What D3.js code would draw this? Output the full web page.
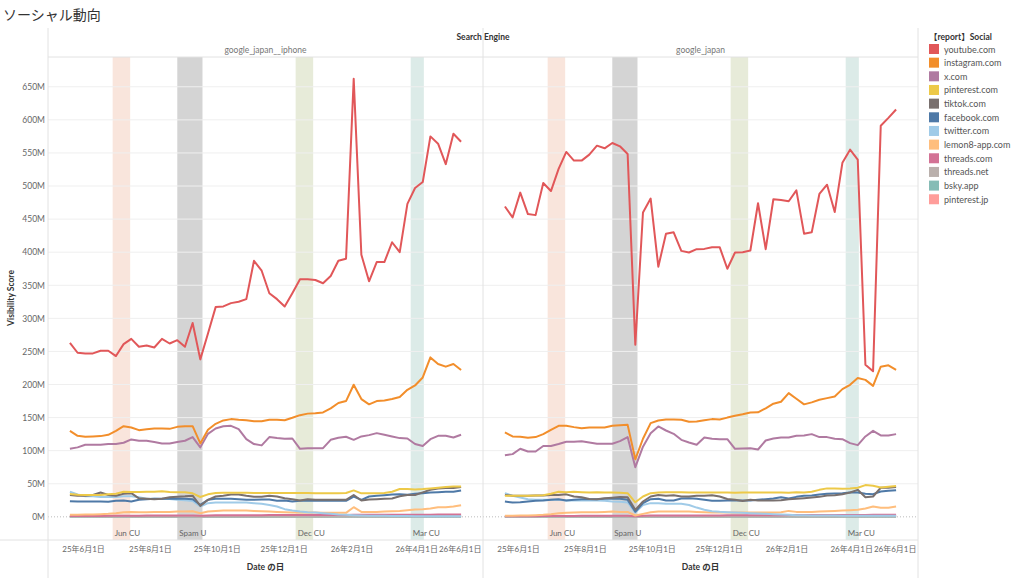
<!DOCTYPE html>
<html>
<head>
<meta charset="utf-8">
<script src="https://cdn.jsdelivr.net/npm/d3@7"></script>
<style>
  body { margin: 0; background: #fff; font-family: Lato, "Noto Sans CJK JP", sans-serif; }
  text { font-family: Lato, "Noto Sans CJK JP", sans-serif; }
</style>
</head>
<body>
<svg id="chart" width="1024" height="578"></svg>
<script>
// categories
const socialNames = ["youtube.com", "instagram.com", "x.com", "pinterest.com", "tiktok.com", "facebook.com",
  "twitter.com", "lemon8-app.com", "threads.com", "threads.net", "bsky.app", "pinterest.jp"];
const socialColors = ["#e15759", "#f28e2b", "#b07aa1", "#edc948", "#79706e", "#4e79a7",
  "#a0cbe8", "#ffbe7d", "#d37295", "#bab0ac", "#86bcb6", "#ff9d9a"];
const panelNames = ["google_japan__iphone", "google_japan"];

// weekly dates (52 weeks)
const startDate = new Date(2025, 4, 20);
const dates = d3.range(52).map(i => d3.timeDay.offset(startDate, 7 * i));

// tick labels
const yTicks = [0, 50, 100, 150, 200, 250, 300, 350, 400, 450, 500, 550, 600, 650];
const xTickDates = [new Date(2025, 5, 1), new Date(2025, 7, 1), new Date(2025, 9, 1), new Date(2025, 11, 1),
  new Date(2026, 1, 1), new Date(2026, 3, 1), new Date(2026, 5, 1)];
const xTickLabels = ["25年6月1日", "25年8月1日", "25年10月1日", "25年12月1日", "26年2月1日", "26年4月1日", "26年6月1日"];

// update bands
const bandNames = ["Jun CU", "Spam U", "Dec CU", "Mar CU"];
const bandStarts = [new Date(2025, 5, 28), new Date(2025, 7, 26), new Date(2025, 11, 12), new Date(2026, 2, 27)];
const bandEnds = [new Date(2025, 6, 14), new Date(2025, 8, 18), new Date(2025, 11, 28), new Date(2026, 3, 8)];
const bandColors = ["#f9e5dc", "#d4d4d4", "#e7ebd9", "#dcebe8"];

// google_japan__iphone (millions)
const lYoutube = [263,248,247,247,251,251,243,261,269,257,259,256,269,262,267,257,293,238,277,317,318,323,325,329,387,372,338,329,318,338,359,359,358,353,364,387,390,662,396,356,385,385,415,400,473,497,506,575,564,533,579,567];
const lInstagram = [130,122.5,121,121.5,122,124,130,137,135,131,132.5,133.5,133.5,133,136,137,137,111,131.5,140.6,145.7,147.7,146.7,146,144.6,144.6,146.7,146.7,146,149.7,153.7,156,156.7,157.8,164,172,175,199.6,178,170,175,176,178,181,192,198.6,210.7,241,231,227,231,222];
const lX = [103,105,109,109,109,110,110,112,117,115,115,113,111,111,113,115,120.5,105,125.5,133.6,137,137.6,132.6,117.4,110,108,120.5,119,118,118.4,102.8,103.8,103.8,103.8,116.4,119.4,121,116.4,121.5,123.5,126.5,124,121.5,119,118.4,110,107,117.4,122.5,122.5,120,124];
const lPinterest = [34.5,33.5,33,33,33,34,35,38,37.5,37.5,38,38,38.5,37.5,37,37,35.5,30,34,36,36.5,36.5,36.5,36.5,36,36,36,36,36,36,36,36,35.5,35.5,35.5,35.5,36,40,35.5,35.5,35.5,36,38,42,42,41.5,42,43,44,45,46,46];
const lTiktok = [33,32,32,33,36.8,33,32,34.8,35.8,28,27.5,26.5,27.5,29.5,30.5,31,32,16.6,25.7,30.7,32,33.8,33.8,31.8,30.2,30.2,32,30.7,28,26.7,24.7,26.7,25.7,25.7,25.7,25.7,25.7,33,24.7,26.2,26.7,27.2,27.7,31,33,33,37,41,43,43.5,43.5,45];
const lFacebook = [23.7,23.2,23.2,23.2,23.2,22.7,24.2,24.7,23.2,25.7,26.7,27.2,27.2,27.2,27.7,27.2,26.7,18,25.7,27.2,27.2,27.2,26.7,25.7,25.7,26.2,26.2,24.2,24.7,23.2,24.2,24.7,24.2,24.2,24.2,24.2,24.2,30.7,25.7,30.7,31.8,32.8,33.8,34.3,33.3,34.8,35.8,36.8,37.3,37.8,37.8,39.8];
const lTwitter = [38,34,31,31,30,30,30,31,31,29.5,27.5,27.5,27,27,26,25,24,15.6,20.7,21.7,21.7,21.7,21.7,21.7,20.7,19.7,18,15.6,11.6,9.6,8,7,6.5,5.5,4.5,3.5,3,2.5,2,1.5,1.5,1.5,1.2,1.2,1.2,1,1,1,1,1,1,1];
const lLemon8 = [3,3,3.5,3.5,4,4.5,5.5,7,7.5,7,7,7.5,7.5,7.5,8,8,8.5,5.5,8,9,9.6,9.6,9.6,9.6,9,8.5,8,7.5,7,6.5,6.5,6.5,6.5,6,6,6,6,14.6,7.5,7.5,7.5,8,8.5,9,10,11,11.5,12.6,14.6,14.6,15.6,17.6];
const lThreadsCom = [1.2,1.3,1.3,1.4,1.4,1.5,1.6,1.7,1.8,1.8,1.9,1.9,2,2,2.1,2.1,2.2,1.6,2.1,2.3,2.4,2.4,2.4,2.5,2.5,2.5,2.6,2.6,2.6,2.7,2.7,2.7,2.8,2.8,2.8,2.9,2.9,3,3,3,3.1,3.1,3.1,3.2,3.2,3.3,3.3,3.3,3.4,3.4,3.5,3.5];

// google_japan (millions)
const rYoutube = [469,452.5,490,457.6,456,504.6,492.4,525.8,551.5,538.4,538.4,547.5,561,557,565,560,548.5,260,460,481,378,428,430,402,399.5,404.6,405,407.6,407.6,375,399.5,400,402.5,474,404.6,480,479,477,493.4,428,430,488,502,460.6,535,555,540,230,220,591,603,615.7];
const rInstagram = [127.5,121.5,121,119.5,120.5,125,131.5,137.6,137.6,135.6,134,135,135,135,137.6,138.6,139,87,118,141.6,145.7,147,147,146.7,143.6,144,146,147.7,147,150,152.7,155,157.8,158,164,171,174,187,178.4,170,173,177,179.4,182,193,199.6,209.7,207,198,227,229,222];
const rX = [93,94.8,103,98.8,98.8,107,107,110,113.4,113.4,114.4,112.4,110.4,110.4,110.4,114.4,120.5,75,106,126.5,136.6,130.5,125.5,116.4,112.4,108.9,120,118,117.4,117.4,102.8,103.3,103.8,101.8,115.4,118.4,120,120,122.5,123,125,120.5,120.5,118,117.4,111.4,108.4,121.5,130,123,123,125];
const rPinterest = [31.8,31.8,31.8,31.8,32.3,32.8,34.8,37.8,37.3,37.8,37.3,36.8,37.3,36.8,36.8,36.3,35.8,22,30.7,35.8,36.8,37.3,37.3,37.3,36.8,36.8,36.8,36.8,36.8,36.8,36.3,36.8,36.8,36.8,36.8,36.8,36.8,36.3,37.3,36.8,37.8,40.8,43,43,42.5,43,44,48,47,44.5,45.5,46.5];
const rTiktok = [33,32,32,32,32.3,32.3,33,33,34,30.7,29.7,27,26.7,28,29,30,29.7,10.6,23.2,30.7,33,31.8,32.8,30.7,30.7,31.8,31.8,32.8,30.7,27,25.7,24,25.7,24.7,24.7,24.7,25.2,26.7,27.2,28.2,29.2,30.2,32.3,32.8,34.3,36.8,40.8,29.7,30.7,44,44,45];
const rFacebook = [23.2,21.7,22.2,23.2,24.2,24.7,25.7,26.7,24.7,25.7,26.7,26.7,26.7,27.2,27.2,27.2,25.7,7.6,20.7,26.7,27.2,24.7,24.7,27.7,28.2,27.2,25.7,24.2,24.2,24.7,24.7,24.7,24.7,25.7,26.7,27.7,29.7,27.7,30.2,31.8,32.3,33.8,34.8,35.3,35.8,36.8,36.8,34.8,34.3,38.3,39.3,40.3];
const rTwitter = [35.8,31.8,29.2,26.7,25.7,25.7,25.7,25.7,24.7,24.7,24.7,24.7,24.7,24.2,23.2,22.7,21.7,6.5,18,20.7,20.7,19.7,19.7,19.7,18,14,10.6,8.6,7.6,7,6.5,6,5.5,5,4.5,4,3.5,3,2.5,2.5,2,2,2,2,1.5,1.5,1.5,1.5,1.5,1.5,1.5,1.5];
const rLemon8 = [1.5,1.5,2,2,2.5,3,4,5.5,6,6.5,7,7,7,7.5,8,7.5,7.5,2,4.5,7,8,8,8,8,8,7.5,7,6.5,6.5,6.5,6.5,6.5,6.5,6.5,6.5,6.5,7,9,7.5,7.5,7.5,8,8.5,9,9.6,10,10.6,12.6,15.6,13.6,13.6,15.6];
const rThreadsCom = [0.8,0.9,0.9,1,1,1.1,1.2,1.3,1.4,1.4,1.5,1.5,1.6,1.6,1.7,1.7,1.8,0.9,1.6,1.9,2,2,2,2.1,2.1,2.1,2.2,2.2,2.2,2.3,2.3,2.3,2.4,2.4,2.4,2.5,2.5,2.6,2.6,2.6,2.7,2.7,2.7,2.8,2.8,2.9,2.9,2.9,3,3,3.1,3.1];

// near-zero series (both panels)
const threadsNetVals = [0.4,0.4,0.4,0.4,0.4,0.4,0.4,0.4,0.4,0.4,0.4,0.4,0.4,0.4,0.4,0.4,0.4,0.3,0.4,0.4,0.4,0.4,0.4,0.4,0.4,0.4,0.4,0.4,0.4,0.4,0.4,0.4,0.4,0.4,0.4,0.4,0.4,0.4,0.4,0.4,0.4,0.4,0.4,0.4,0.4,0.4,0.4,0.4,0.4,0.4,0.4,0.4];
const bskyVals = [0.1,0.1,0.1,0.1,0.1,0.1,0.1,0.1,0.1,0.1,0.1,0.1,0.1,0.1,0.1,0.1,0.1,0.1,0.1,0.1,0.1,0.1,0.1,0.1,0.1,0.1,0.1,0.1,0.1,0.1,0.1,0.1,0.1,0.1,0.1,0.1,0.1,0.1,0.1,0.1,0.1,0.1,0.1,0.1,0.1,0.1,0.1,0.1,0.1,0.1,0.1,0.1];
const pinterestJpVals = [0.6,0.6,0.6,0.6,0.6,0.6,0.7,0.7,0.7,0.7,0.7,0.7,0.7,0.7,0.7,0.7,0.7,0.5,0.7,0.7,0.7,0.7,0.7,0.7,0.7,0.7,0.7,0.7,0.7,0.7,0.7,0.7,0.7,0.7,0.7,0.7,0.7,0.8,0.7,0.7,0.7,0.7,0.7,0.7,0.8,0.8,0.8,0.8,0.8,0.8,0.8,0.8];

const iphoneValues = [lYoutube, lInstagram, lX, lPinterest, lTiktok, lFacebook, lTwitter, lLemon8, lThreadsCom, threadsNetVals, bskyVals, pinterestJpVals];
const desktopValues = [rYoutube, rInstagram, rX, rPinterest, rTiktok, rFacebook, rTwitter, rLemon8, rThreadsCom, threadsNetVals, bskyVals, pinterestJpVals];
const panelValues = [iphoneValues, desktopValues];

const svg = d3.select("#chart");
const plotTop = 57, plotBottom = 540;
const panelLeft = [48, 483];
const panelWidth = 435;
const lineCol = "#e2e2e2";

const y = d3.scaleLinear().domain([-35, 695]).range([plotBottom, plotTop]);

// title
svg.append("text").attr("x", 3).attr("y", 20)
  .attr("font-size", 14).attr("fill", "#333").attr("font-weight", 400)
  .text("ソーシャル動向");

svg.append("text").attr("x", 483).attr("y", 40).attr("text-anchor", "middle")
  .attr("font-size", 8.5).attr("font-weight", "bold").attr("fill", "#333")
  .text("Search Engine");

panelValues.forEach((values, p) => {
  const x0 = panelLeft[p];
  const x = d3.scaleTime()
    .domain([new Date(2025, 3, 30), new Date(2026, 5, 1)])
    .range([x0, x0 + panelWidth]);

  const g = svg.append("g");

  // facet header
  g.append("text").attr("x", x0 + panelWidth / 2).attr("y", 53)
    .attr("text-anchor", "middle").attr("font-size", 8.5).attr("fill", "#777")
    .text(panelNames[p]);

  // bands
  g.selectAll(".band").data(bandNames).enter().append("rect")
    .attr("x", (d, i) => x(bandStarts[i]))
    .attr("y", plotTop)
    .attr("width", (d, i) => x(bandEnds[i]) - x(bandStarts[i]))
    .attr("height", plotBottom - plotTop)
    .attr("fill", (d, i) => bandColors[i]);

  // grid
  g.selectAll(".grid").data(yTicks.filter(d => d !== 0)).enter().append("line")
    .attr("x1", x0).attr("x2", x0 + panelWidth)
    .attr("y1", d => y(d)).attr("y2", d => y(d))
    .attr("stroke", "#efefef").attr("stroke-width", 1);
  g.append("line").attr("x1", x0).attr("x2", x0 + panelWidth)
    .attr("y1", y(0)).attr("y2", y(0))
    .attr("stroke", "#bbb").attr("stroke-dasharray", "1,2");

  g.selectAll(".bandLabel").data(bandNames).enter().append("text")
    .attr("x", (d, i) => x(bandStarts[i]) + 2)
    .attr("y", 536)
    .attr("font-size", 8).attr("fill", "#666")
    .text(d => d);

  // lines (first legend entry on top)
  const line = d3.line()
    .x((d, i) => x(dates[i]))
    .y(d => y(d));
  const order = d3.range(socialNames.length).reverse();
  g.selectAll(".series").data(order).enter().append("path")
    .attr("d", k => line(values[k]))
    .attr("fill", "none")
    .attr("stroke", k => socialColors[k])
    .attr("stroke-width", 2)
    .attr("stroke-linejoin", "round");

  // x axis
  const ax = g.append("g").attr("transform", `translate(0,${plotBottom})`)
    .call(d3.axisBottom(x).tickValues(xTickDates).tickSize(0).tickPadding(6)
      .tickFormat((d, i) => xTickLabels[i]));
  ax.select(".domain").remove();
  ax.selectAll("text").attr("font-size", 8).attr("fill", "#666");
  ax.selectAll(".tick").filter((d, i) => i === xTickDates.length - 1)
    .select("text").attr("text-anchor", "end").attr("dx", -2);

  g.append("text").attr("x", x0 + panelWidth / 2).attr("y", 570)
    .attr("text-anchor", "middle").attr("font-size", 8.5).attr("font-weight", "bold").attr("fill", "#333")
    .text("Date の日");
});

// y axis
const yAxis = svg.append("g").attr("transform", "translate(45,0)")
  .call(d3.axisLeft(y).tickValues(yTicks).tickSize(0).tickPadding(0).tickFormat(d => `${d}M`));
yAxis.select(".domain").remove();
yAxis.selectAll("text").attr("font-size", 8.5).attr("fill", "#666");

svg.append("text")
  .attr("transform", "translate(14,298) rotate(-90)")
  .attr("text-anchor", "middle").attr("font-size", 8.5).attr("font-weight", "bold").attr("fill", "#333")
  .text("Visibility Score");

// frame lines
[48, 483, 918].forEach(xv => {
  svg.append("line").attr("x1", xv).attr("x2", xv).attr("y1", 28).attr("y2", 578)
    .attr("stroke", lineCol);
});
svg.append("line").attr("x1", 48).attr("x2", 918).attr("y1", plotTop).attr("y2", plotTop).attr("stroke", lineCol);
svg.append("line").attr("x1", 0).attr("x2", 918).attr("y1", plotBottom).attr("y2", plotBottom).attr("stroke", lineCol);

// legend
const legend = svg.append("g");
legend.append("text").attr("x", 929).attr("y", 40)
  .attr("font-size", 8.5).attr("font-weight", "bold").attr("fill", "#333")
  .text("【report】Social");
const item = legend.selectAll(".item").data(socialNames).enter().append("g")
  .attr("transform", (d, i) => `translate(929,${49 + i * 13.66})`);
item.append("rect").attr("x", 0).attr("y", -5).attr("width", 10).attr("height", 10)
  .attr("fill", (d, i) => socialColors[i]);
item.append("text").attr("x", 15).attr("y", 3.5)
  .attr("font-size", 9).attr("fill", "#555")
  .text(d => d);
</script>
</body>
</html>
